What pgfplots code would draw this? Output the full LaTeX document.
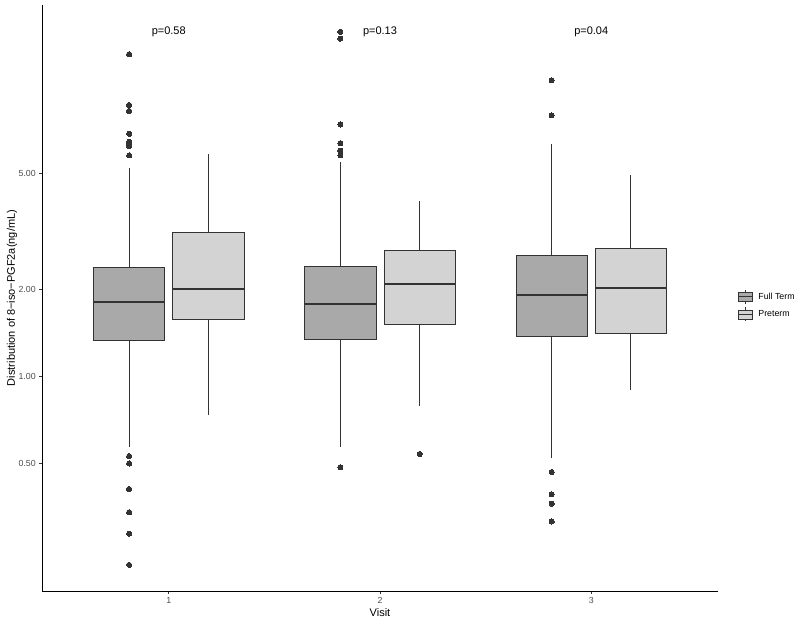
\documentclass[border=0pt]{standalone}
\usepackage{fontspec}
\setmainfont{Liberation Sans}
\usepackage{pgfplots}
\pgfplotsset{compat=1.18}
\usepgfplotslibrary{statistics}

\definecolor{gray20}{HTML}{333333}
\definecolor{gray30}{HTML}{4D4D4D}
\definecolor{ftfill}{HTML}{A9A9A9}
\definecolor{ptfill}{HTML}{D3D3D3}

\pgfplotsset{
  gbox/.style={
    draw=gray20, line width=0.9pt, solid,
    mark=*, mark size=2.6pt,
    mark options={draw=gray20, fill=gray20, line width=0pt},
    boxplot/draw direction=y,
    boxplot/box extend=0.3375,
    boxplot/whisker extend=0,
    boxplot/every median/.style={line width=1.8pt},
  },
  ft/.style={gbox, fill=ftfill},
  pt/.style={gbox, fill=ptfill},
}

\begin{document}
\begin{tikzpicture}
\begin{axis}[
    at={(0,0)}, anchor=south west,
    scale only axis,
    width=676pt, height=586pt,
    ymode=log,
    xmin=0.4, xmax=3.6,
    ymin=0.182, ymax=19.07,
    axis lines=left,
    axis line style={-, black, line width=0.9pt},
    xtick={1,2,3},
    xticklabels={1,2,3},
    ytick={0.5,1,2,5},
    yticklabels={0.50,1.00,2.00,5.00},
    yminorticks=false,
    tick align=outside,
    major tick length=2.75pt,
    tick style={gray20, line width=0.6pt},
    ticklabel style={font=\fontsize{8.8}{10}\selectfont, text=gray30},
    /pgf/number format/assume math mode=true,
    every axis x label/.style={at={(axis description cs:0.5,0)}, anchor=center, yshift=-22pt},
    every axis y label/.style={at={(axis description cs:0,0.5)}, anchor=center, rotate=90, yshift=30pt},
    label style={font=\fontsize{11}{13}\selectfont},
    xlabel={Visit},
    ylabel={Distribution of 8−iso−PGF2a(ng/mL)},
    legend cell align=left,
    legend style={at={(1,0.487)}, anchor=west, xshift=19pt, draw=none, fill=none,
      inner sep=0pt, row sep=3pt, font=\fontsize{8.8}{10}\selectfont,
      nodes={inner xsep=6pt}},
  ]

% Visit 1
\addplot[ft, boxplot prepared={draw position=0.8125,
    lower whisker=0.569, lower quartile=1.327, median=1.80,
    upper quartile=2.377, upper whisker=5.24}, forget plot]
  table[row sep=\\, y index=0, header=false] {12.9\\ 8.62\\ 8.22\\ 6.86\\ 6.44\\ 6.32\\ 6.22\\ 5.78\\ 0.531\\ 0.501\\ 0.409\\ 0.340\\ 0.287\\ 0.224\\};
\addplot[pt, boxplot prepared={draw position=1.1875,
    lower whisker=0.736, lower quartile=1.572, median=2.00,
    upper quartile=3.13, upper whisker=5.84}, forget plot]
  coordinates {};

% Visit 2
\addplot[ft, boxplot prepared={draw position=1.8125,
    lower whisker=0.572, lower quartile=1.338, median=1.776,
    upper quartile=2.39, upper whisker=5.47}, forget plot]
  table[row sep=\\, y index=0, header=false] {15.4\\ 14.6\\ 7.39\\ 6.36\\ 6.00\\ 5.78\\ 0.486\\};
\addplot[pt, boxplot prepared={draw position=2.1875,
    lower whisker=0.792, lower quartile=1.511, median=2.08,
    upper quartile=2.72, upper whisker=4.01}, forget plot]
  table[row sep=\\, y index=0, header=false] {0.540\\};

% Visit 3
\addplot[ft, boxplot prepared={draw position=2.8125,
    lower whisker=0.5226, lower quartile=1.369, median=1.906,
    upper quartile=2.61, upper whisker=6.32}, forget plot]
  table[row sep=\\, y index=0, header=false] {10.49\\ 7.94\\ 0.468\\ 0.392\\ 0.364\\ 0.316\\};
\addplot[pt, boxplot prepared={draw position=3.1875,
    lower whisker=0.899, lower quartile=1.406, median=2.02,
    upper quartile=2.76, upper whisker=4.96}, forget plot]
  coordinates {};

\addlegendimage{legend image code/.code={
  \draw[gray20, line width=0.6pt] (7pt,-7pt) -- (7pt,7pt);
  \draw[gray20, fill=ftfill, line width=0.6pt] (0pt,-4.5pt) rectangle (14pt,4.5pt);
  \draw[gray20, line width=1.2pt] (0pt,0pt) -- (14pt,0pt);
}}
\addlegendentry{Full Term}
\addlegendimage{legend image code/.code={
  \draw[gray20, line width=0.6pt] (7pt,-7pt) -- (7pt,7pt);
  \draw[gray20, fill=ptfill, line width=0.6pt] (0pt,-4.5pt) rectangle (14pt,4.5pt);
  \draw[gray20, line width=1.2pt] (0pt,0pt) -- (14pt,0pt);
}}
\addlegendentry{Preterm}

\node[font=\fontsize{11}{13}\selectfont] at (axis cs:1,15.4) {p=0.58};
\node[font=\fontsize{11}{13}\selectfont] at (axis cs:2,15.4) {p=0.13};
\node[font=\fontsize{11}{13}\selectfont] at (axis cs:3,15.4) {p=0.04};
\end{axis}
\pgfresetboundingbox
\path (-42pt,-31pt) rectangle (758pt,591pt);
\end{tikzpicture}
\end{document}
